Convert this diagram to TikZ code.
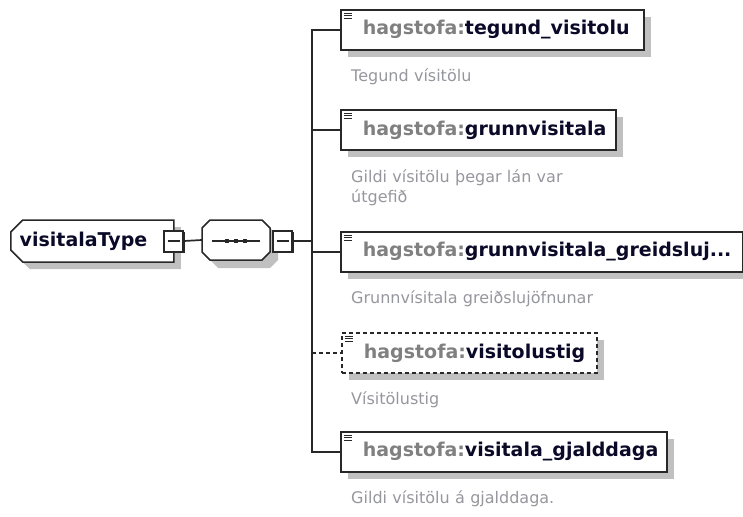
\documentclass[tikz,border=0pt]{standalone}
\usepackage{fontspec}
\setmainfont{DejaVu Sans}
\usetikzlibrary{shapes.misc,shadows}
\definecolor{nsgray}{RGB}{128,128,128}
\definecolor{docgray}{RGB}{150,150,158}
\definecolor{shadowgray}{RGB}{192,192,192}
\definecolor{framedark}{RGB}{40,40,40}
\definecolor{namedark}{RGB}{10,10,40}
\newcommand{\qname}[1]{{\color{nsgray}hagstofa:}{\color{namedark}#1}}
\def\seqoutline{(-26,-20) -- (26,-20) -- (34,-12) -- (34,12) -- (26,20) -- (-26,20) -- (-34,12) -- (-34,-12) -- cycle}

\begin{document}
\begin{tikzpicture}[x=1pt,y=-1pt,
    conn/.style={draw=framedark,line width=1.7pt},
    boxshadow/.style={drop shadow={shadow xshift=7pt,shadow yshift=-7pt,fill=shadowgray,opacity=1}},
    elembox/.style={draw=framedark,fill=white,line width=1.7pt,anchor=west,boxshadow,
        minimum width=#1,minimum height=40pt,text width=#1-44pt,align=left,inner xsep=0pt,
        font=\fontsize{19}{22}\selectfont\bfseries},
    optbox/.style={dash pattern=on 4pt off 3pt},
    typebox/.style={chamfered rectangle,chamfered rectangle corners={north west,south west},
        chamfered rectangle xsep=6pt,chamfered rectangle ysep=6pt,
        draw=framedark,fill=white,line width=1.5pt,anchor=west,boxshadow,
        minimum width=163pt,minimum height=42pt,text width=145pt,align=left,inner xsep=0pt,
        text=namedark,font=\fontsize{19}{22}\selectfont\bfseries},
    seqbox/.style={rectangle,minimum width=68pt,minimum height=40pt,inner sep=0pt},
    minusbox/.style={draw=framedark,fill=white,line width=2pt,
        minimum width=19pt,minimum height=21pt,inner sep=0pt,
        drop shadow={shadow xshift=1.5pt,shadow yshift=-1.5pt,fill=framedark,opacity=1},
        path picture={\draw[line width=1.3pt] ([xshift=-6pt]path picture bounding box.center)
            -- ([xshift=6pt]path picture bounding box.center);}},
    docnote/.style={anchor=base west,inner sep=0pt,text=docgray,text width=300pt,align=left,
        font=\fontsize{16}{20}\selectfont},
    iconline/.style={draw=framedark,line width=1.2pt}]

    \useasboundingbox (0,0) rectangle (743,516);

    % Complex type and its sequence
    \node[typebox] (vtype) at (10,241) {visitalaType};
    \node[seqbox] (seq) at (236,240) {};
    \begin{scope}[shift={(seq.center)}]
        \fill[shadowgray,shift={(8,8)}] \seqoutline;
        \draw[framedark,fill=white,line width=1.5pt] \seqoutline;
        \draw[line width=1.4pt,framedark] (-24,1) -- (24,1);
        \foreach \dx in {-9,0,9}
            \fill[framedark] (\dx-2,-1) rectangle (\dx+2,3);
    \end{scope}
    \node[minusbox] (vminus) at (173.5,241) {};
    \node[minusbox] (sminus) at (282.5,241) {};

    % Child elements
    \node[elembox=303pt] (e1) at (340,30) {\qname{tegund\_visitolu}};
    \node[elembox=275pt] (e2) at (340,130) {\qname{grunnvisitala}};
    \node[elembox=402pt] (e3) at (340,252) {\qname{grunnvisitala\_greidsluj...}};
    \node[elembox=255pt,optbox] (e4) at (341,353) {\qname{visitolustig}};
    \node[elembox=326pt] (e5) at (340,452) {\qname{visitala\_gjalddaga}};
    \foreach \e in {e1,e2,e3,e4,e5}
        \foreach \d in {4,6.5,9}
            \draw[iconline] ([xshift=4pt,yshift=-\d pt]\e.north west) -- ++(8,0);

    % Annotations
    \node[docnote] (d1) at (351,82) {Tegund vísitölu};
    \node[docnote] (d2) at (351,182) {Gildi vísitölu þegar lán var\\útgefið};
    \node[docnote] (d3) at (351,303) {Grunnvísitala greiðslujöfnunar};
    \node[docnote] (d4) at (351,404) {Vísitölustig};
    \node[docnote] (d5) at (351,503) {Gildi vísitölu á gjalddaga.};

    % Connectors
    \coordinate (spine) at (312,241);
    \draw[conn] (vminus.east) -- (seq.west);
    \draw[conn] (sminus.east) -- (spine);
    \draw[conn] (spine) |- (e1.west);
    \draw[conn] (spine) |- (e2.west);
    \draw[conn] (spine) |- (e3.west);
    \draw[conn] (spine) |- (e5.west);
    \draw[conn,dash pattern=on 4pt off 3pt] (spine |- e4.west) -- (e4.west);

\end{tikzpicture}
\end{document}
